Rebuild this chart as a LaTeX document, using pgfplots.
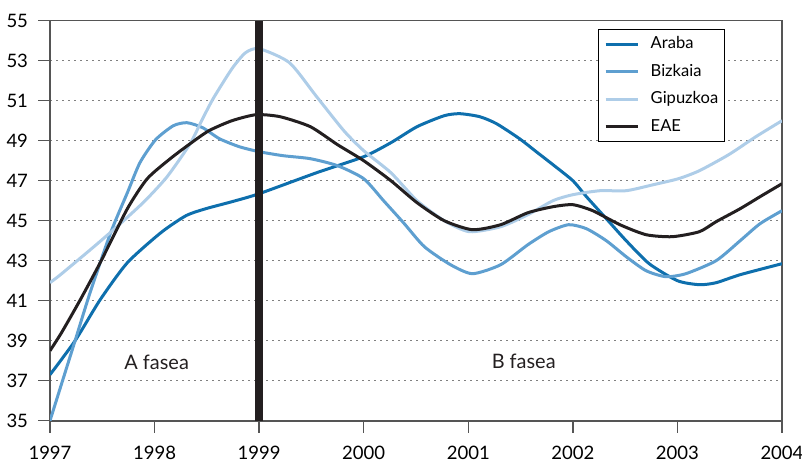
\documentclass[border=0pt]{standalone}
\usepackage{fontspec}
\setmainfont{Lato}
\usepackage{pgfplots}
\pgfplotsset{compat=1.18}
\definecolor{araba}{HTML}{0E6FAD}
\definecolor{bizkaia}{HTML}{5E9FD0}
\definecolor{gipuzkoa}{HTML}{AECDE8}
\definecolor{eae}{HTML}{231F20}
\definecolor{axisgray}{HTML}{555555}
\begin{document}
\begin{tikzpicture}
\begin{axis}[
  scale only axis, width=366bp, height=200bp,
  xmin=1997, xmax=2004, ymin=35, ymax=55,
  xtick={1997,1998,...,2004}, ytick={35,37,...,55},
  xticklabel style={/pgf/number format/1000 sep={}, yshift=-3bp},
  yticklabel style={xshift=-1.5bp},
  /pgf/number format/assume math mode=true,
  tick label style={font=\fontsize{9.3}{11}\selectfont, text=black},
  tick align=outside, major tick length=6bp,
  xtick pos=bottom, ytick pos=left,
  tick style={color=axisgray, line width=0.7bp},
  axis line style={axisgray, line width=0.8bp},
  ymajorgrids, grid style={gray, line width=0.5bp, dash pattern=on 1bp off 2bp},
  legend style={at={(0.748,0.9785)}, anchor=north west, draw=black, line width=0.6bp,
    font=\fontsize{8.3}{9}\selectfont, inner xsep=3bp, inner ysep=3.5bp,
    row sep=6.5bp, column sep=5.8bp, nodes={inner sep=0pt, text height=5.8bp, text depth=1.5bp}},
  legend cell align=left,
  legend image code/.code={\draw[#1] (0bp,0bp) -- (16bp,0bp);},
  every axis plot/.append style={line width=1.5bp, smooth, tension=0.4},
]
\coordinate (sw) at (rel axis cs:0,0);
\addplot[araba] coordinates {
(1997.00,37.3) (1997.24,39.0) (1997.48,41.05) (1997.74,42.9) (1998.06,44.4)
(1998.30,45.25) (1998.49,45.6) (1998.74,45.95) (1999.00,46.35) (1999.55,47.4) (2000.00,48.2)
(2000.26,48.9) (2000.51,49.7) (2000.77,50.25) (2000.92,50.35) (2001.11,50.2) (2001.27,49.85)
(2001.49,49.1) (2001.65,48.45) (2001.81,47.8) (2002.00,47.0) (2002.13,46.2) (2002.32,45.1)
(2002.51,44.0) (2002.73,42.85) (2003.00,42.0) (2003.21,41.8) (2003.37,41.9) (2003.60,42.3)
(2004.00,42.85)};
\addlegendentry{Araba}
\addplot[bizkaia] coordinates {
(1997.00,35.0) (1997.12,37.0) (1997.24,39.0) (1997.38,41.35) (1997.58,44.4) (1997.74,46.4)
(1997.86,47.9) (1998.01,49.05) (1998.18,49.75) (1998.31,49.9) (1998.46,49.65)
(1998.62,49.1) (1998.81,48.7) (1999.00,48.45) (1999.23,48.25) (1999.49,48.1) (1999.75,47.75)
(2000.00,47.1) (2000.19,46.0) (2000.38,44.9) (2000.58,43.7) (2000.83,42.8) (2001.04,42.35)
(2001.31,42.8) (2001.57,43.8) (2001.77,44.45) (2001.96,44.8) (2002.13,44.6) (2002.32,44.0)
(2002.51,43.2) (2002.70,42.5) (2002.89,42.2) (2003.08,42.35) (2003.37,43.0) (2003.60,44.0)
(2003.79,44.85) (2004.00,45.5)};
\addlegendentry{Bizkaia}
\addplot[gipuzkoa] coordinates {
(1997.00,41.9) (1997.10,42.3) (1997.42,43.7) (1997.64,44.7) (1997.90,45.95) (1998.12,47.2)
(1998.34,48.85) (1998.45,50.0) (1998.56,51.1) (1998.74,52.6) (1998.87,53.4)
(1999.00,53.6) (1999.29,52.9) (1999.55,51.2) (1999.81,49.5) (2000.00,48.5) (2000.26,47.4)
(2000.51,46.0) (2000.77,45.0) (2001.01,44.45) (2001.31,44.7) (2001.57,45.3) (2001.81,46.0)
(2002.00,46.3) (2002.26,46.5) (2002.51,46.5) (2002.77,46.8) (2003.01,47.1) (2003.21,47.5)
(2003.49,48.3) (2003.75,49.2) (2004.00,50.0)};
\addlegendentry{Gipuzkoa\hspace{4bp}}
\addplot[eae] coordinates {
(1997.00,38.5) (1997.11,39.4) (1997.29,41.05) (1997.48,42.9) (1997.74,45.6) (1997.93,47.1)
(1998.15,48.1) (1998.34,48.85) (1998.52,49.5) (1998.74,50.0) (1998.97,50.3)
(1999.20,50.2) (1999.49,49.7) (1999.75,48.8) (2000.00,48.0) (2000.26,47.0) (2000.51,45.9)
(2000.77,45.0) (2001.04,44.55) (2001.31,44.8) (2001.57,45.4) (2001.81,45.7) (2002.00,45.8)
(2002.19,45.5) (2002.45,44.8) (2002.70,44.3) (2002.95,44.2) (2003.21,44.45) (2003.37,44.95)
(2003.60,45.6) (2003.79,46.2) (2004.00,46.85)};
\addlegendentry{EAE}
\addplot[eae, line width=4bp, sharp plot, forget plot] coordinates {(1999,35) (1999,55)};
\node[font=\fontsize{10}{12}\selectfont, text=eae] at (axis cs:1998.02,37.9) {A fasea};
\node[font=\fontsize{10}{12}\selectfont, text=eae] at (axis cs:2001.53,37.95) {B fasea};
\end{axis}
\pgfresetboundingbox
\path (sw) ++(-25bp,-21.15bp) rectangle ++(401bp,231.5bp);
\end{tikzpicture}
\end{document}
